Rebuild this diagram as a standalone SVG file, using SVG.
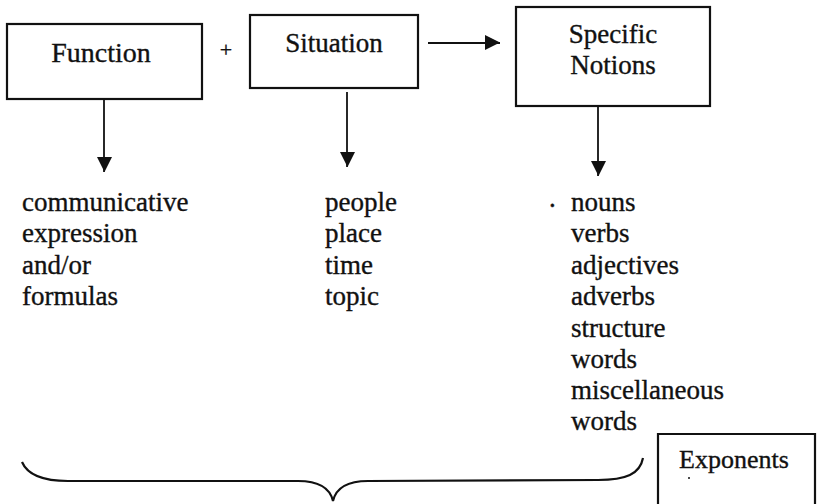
<svg xmlns="http://www.w3.org/2000/svg" width="817" height="504" viewBox="0 0 817 504">
  <style>
    text { font-family: "Liberation Serif", "Times New Roman", serif; font-size: 27px; fill: #111; stroke: #111; stroke-width: 0.35; }
    .box { fill: #fff; stroke: #111; stroke-width: 2.2; }
    .mid { text-anchor: middle; }
    .edge { stroke: #111; stroke-width: 1.8; fill: none; }
    .brace { stroke: #111; stroke-width: 2.2; fill: none; }
  </style>
  <defs>
    <marker id="head" markerWidth="15" markerHeight="16" refX="15" refY="8" orient="auto" markerUnits="userSpaceOnUse">
      <path d="M0,0 L15,7.5 L0,15 Z" fill="#111"/>
    </marker>
  </defs>

  <rect width="817" height="504" fill="#fff"/>

  <g id="function">
    <rect class="box" x="7" y="24" width="195" height="75"/>
    <text class="mid" x="101" y="62" style="font-size:28px">Function</text>
  </g>

  <text id="plus" class="mid" x="226" y="57" style="font-size:22px">+</text>

  <g id="situation">
    <rect class="box" x="250" y="15" width="168" height="73"/>
    <text class="mid" x="334" y="52">Situation</text>
  </g>

  <g id="specific-notions">
    <rect class="box" x="516" y="7" width="194" height="99"/>
    <text class="mid" x="613" y="43">Specific</text>
    <text class="mid" x="613" y="74">Notions</text>
  </g>

  <g id="connectors">
    <line class="edge" x1="428" y1="43" x2="500" y2="43" marker-end="url(#head)"/>
    <line class="edge" x1="104" y1="99" x2="104" y2="172" marker-end="url(#head)"/>
    <line class="edge" x1="347" y1="92" x2="347" y2="167" marker-end="url(#head)"/>
    <line class="edge" x1="598" y1="106" x2="598" y2="176" marker-end="url(#head)"/>
  </g>

  <g id="function-list">
    <text x="22" y="211">communicative</text>
    <text x="22" y="242">expression</text>
    <text x="22" y="274">and/or</text>
    <text x="22" y="305">formulas</text>
  </g>

  <g id="situation-list">
    <text x="325" y="211">people</text>
    <text x="325" y="242">place</text>
    <text x="325" y="274">time</text>
    <text x="325" y="305">topic</text>
  </g>

  <g id="notions-list">
    <text x="549" y="207">.</text>
    <text x="571" y="211">nouns</text>
    <text x="571" y="242">verbs</text>
    <text x="571" y="274">adjectives</text>
    <text x="571" y="305">adverbs</text>
    <text x="571" y="337">structure</text>
    <text x="571" y="368">words</text>
    <text x="571" y="399">miscellaneous</text>
    <text x="571" y="430">words</text>
  </g>

  <!-- curly brace grouping the three columns -->
  <path class="brace" d="M22,462 C28,476 44,481 68,481 L298,481 C318,481 330,488 333,501 C336,488 348,481 368,481 L598,480 C626,480 640,474 643,458"/>

  <g id="exponents">
    <path class="box" d="M658,506 V434 H815 V506"/>
    <text x="679" y="468" style="font-size:26px">Exponents</text>
    <circle cx="689" cy="478" r="1" fill="#111"/>
  </g>
</svg>
